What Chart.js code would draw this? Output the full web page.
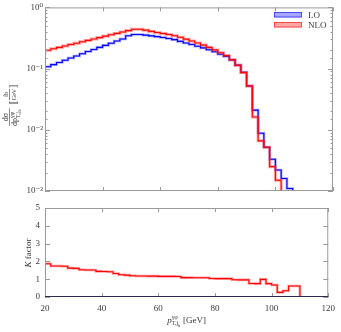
<!DOCTYPE html>
<html>
<head>
<meta charset="utf-8">
<script src="https://cdn.jsdelivr.net/npm/chart.js@4.4.0/dist/chart.umd.min.js"></script>
<style>
  body { margin: 0; background: #fff; }
  canvas { position: absolute; left: 0; }
  #topChart { top: 0; }
  #bottomChart { top: 196px; }
</style>
</head>
<body>
<canvas id="topChart" width="341" height="200"></canvas>
<canvas id="bottomChart" width="341" height="136"></canvas>
<script>
// bin edges in GeV (2 GeV bins)
const binEdges = [20,22,24,26,28,30,32,34,36,38,40,42,44,46,48,50,52,54,56,58,60,62,64,66,68,70,72,74,76,78,80,82,84,86,88,90,92,94,96,98,100,102,104,106,108,110];

// dsigma/dpT [fb/GeV]
const loValues = [0.098,0.107,0.116,0.126,0.137,0.149,0.161,0.175,0.19,0.205,
  0.222,0.24,0.26,0.282,0.305,0.345,0.36,0.36,0.352,0.343,
  0.333,0.322,0.31,0.297,0.278,0.262,0.248,0.232,0.218,0.203,
  0.188,0.172,0.158,0.138,0.114,0.087,0.052,0.021,0.0088,0.0052,
  0.0033,0.0022,0.0016,0.0011,0.0006];
const nloValues = [0.175,0.2,0.211,0.222,0.234,0.247,0.26,0.274,0.289,0.305,
  0.321,0.339,0.357,0.376,0.396,0.418,0.44,0.44,0.425,0.405,
  0.39,0.375,0.36,0.345,0.325,0.303,0.283,0.262,0.242,0.222,
  0.202,0.182,0.163,0.14,0.113,0.086,0.052,0.0162,0.0066,0.0052,
  0.0025,0.0015,0.00043,0.00038,0.00036];
const kFactor = [1.78,1.87,1.74,1.74,1.73,1.62,1.61,1.53,1.52,1.52,
  1.44,1.43,1.42,1.32,1.25,1.23,1.19,1.18,1.18,1.17,
  1.17,1.16,1.16,1.16,1.15,1.09,1.09,1.08,1.08,1.08,
  1.04,1.03,1.03,1.03,0.97,0.96,0.96,0.76,0.75,0.99,
  0.75,0.67,0.26,0.35,0.62];

const xTicks = [20,40,60,80,100,120];
const kTicks = [0,1,2,3,4,5];
const logLabels = {'0': '10⁰', '-1': '10⁻¹', '-2': '10⁻²', '-3': '10⁻³'};

const serif = "'Liberation Serif', 'DejaVu Serif', serif";
const textColor = '#3a3a3a';
const frameColor = '#9a9a9a';

// histogram as stepped points: left edge of each bin + closing right edge
function steps(values) {
  const pts = values.map((v, i) => ({x: binEdges[i], y: v}));
  pts.push({x: binEdges[values.length], y: values[values.length - 1]});
  return pts;
}

function histLine(data, color, width) {
  return {
    data: data,
    borderColor: color,
    borderWidth: width,
    stepped: 'after',
    pointRadius: 0,
    fill: false
  };
}

function isPow10(v) {
  const l = Math.log10(v);
  return Math.abs(l - Math.round(l)) < 1e-9;
}

// frame and inward ticks
function drawFrame(chart, majorFn, bottomColor) {
  const {ctx, chartArea: a, scales} = chart;
  ctx.save();
  ctx.strokeStyle = frameColor;
  ctx.lineWidth = 1;
  ctx.strokeRect(a.left + 0.5, a.top + 0.5, a.right - a.left - 1, a.bottom - a.top - 1);
  ctx.beginPath();
  xTicks.forEach(v => {
    const px = Math.round(scales.x.getPixelForValue(v)) + 0.5;
    ctx.moveTo(px, a.bottom); ctx.lineTo(px, a.bottom - 4);
    ctx.moveTo(px, a.top); ctx.lineTo(px, a.top + 4);
  });
  scales.y.ticks.forEach(t => {
    const py = Math.round(scales.y.getPixelForValue(t.value)) + 0.5;
    const len = majorFn(t.value) ? 5 : 2.5;
    ctx.moveTo(a.left, py); ctx.lineTo(a.left + len, py);
    ctx.moveTo(a.right, py); ctx.lineTo(a.right - len, py);
  });
  ctx.stroke();
  if (bottomColor) {
    ctx.strokeStyle = bottomColor;
    ctx.beginPath();
    ctx.moveTo(a.left, a.bottom - 0.5);
    ctx.lineTo(a.right, a.bottom - 0.5);
    ctx.stroke();
  }
  ctx.restore();
}

// y title of the upper panel: dσ/dp_{T,j_b}^{γφ} [fb/GeV]
function drawYTitle(ctx, cx, cy) {
  ctx.save();
  ctx.translate(cx, cy);
  ctx.rotate(-Math.PI / 2);
  ctx.fillStyle = textColor;
  ctx.strokeStyle = textColor;
  ctx.lineWidth = 0.6;
  ctx.textBaseline = 'alphabetic';
  const big = '8px ' + serif, small = '6px ' + serif, tiny = '4.5px ' + serif;
  ctx.font = big; const wdp = ctx.measureText('dp').width;
  ctx.font = small; const wsub = ctx.measureText('T,j').width; const wsup = ctx.measureText('γφ').width;
  ctx.font = tiny; const wb = ctx.measureText('b').width;
  const denW = wdp + Math.max(wsub + wb, wsup) + 1;
  let x = -28;
  ctx.beginPath(); ctx.moveTo(x, 0.5); ctx.lineTo(x + denW, 0.5); ctx.stroke();
  ctx.font = big;
  const wNum = ctx.measureText('dσ').width;
  ctx.fillText('dσ', x + (denW - wNum) / 2, -1.5);
  ctx.fillText('dp', x, 8);
  ctx.font = small;
  ctx.fillText('T,j', x + wdp, 10.5);
  ctx.fillText('γφ', x + wdp, 4.5);
  ctx.font = tiny;
  ctx.fillText('b', x + wdp + wsub, 12);
  x += denW + 4;
  // [fb/GeV]
  ctx.font = '11px ' + serif;
  ctx.fillText('[', x, 6.5);
  const wbr = ctx.measureText('[').width;
  ctx.font = small;
  const wGeV = ctx.measureText('GeV').width;
  const wfb = ctx.measureText('fb').width;
  const fx = x + wbr + 0.5;
  ctx.beginPath(); ctx.moveTo(fx, 0.5); ctx.lineTo(fx + wGeV, 0.5); ctx.stroke();
  ctx.fillText('fb', fx + (wGeV - wfb) / 2, -1.2);
  ctx.fillText('GeV', fx, 6.5);
  ctx.font = '11px ' + serif;
  ctx.fillText(']', fx + wGeV + 0.5, 6.5);
  ctx.restore();
}

function drawLegend(ctx) {
  ctx.save();
  const items = [
    {label: 'LO', fill: 'rgba(80,80,255,0.5)', edge: 'rgba(40,40,255,0.9)', y: 12},
    {label: 'NLO', fill: 'rgba(255,80,80,0.5)', edge: 'rgba(255,40,40,0.9)', y: 22}
  ];
  ctx.font = '9px ' + serif;
  ctx.textBaseline = 'middle';
  items.forEach(it => {
    ctx.fillStyle = it.fill;
    ctx.fillRect(274, it.y, 28, 5.5);
    ctx.strokeStyle = it.edge;
    ctx.lineWidth = 0.8;
    ctx.strokeRect(274.5, it.y + 0.5, 27, 4.5);
    ctx.fillStyle = textColor;
    ctx.fillText(it.label, 308, it.y + 3.5);
  });
  ctx.restore();
}

const commonPlugins = {legend: {display: false}, tooltip: {enabled: false}};

new Chart(document.getElementById('topChart'), {
  type: 'line',
  data: {
    datasets: [
      histLine(steps(nloValues), 'rgb(255,0,0)', 1.1),
      histLine(steps(nloValues), 'rgba(255,60,60,0.45)', 3),
      histLine(steps(loValues), 'rgb(0,0,255)', 1.1),
      histLine(steps(loValues), 'rgba(60,60,255,0.45)', 2.6)
    ]
  },
  options: {
    responsive: false,
    animation: false,
    devicePixelRatio: 1,
    layout: {padding: {left: 0, right: 8, top: 6, bottom: 9}},
    plugins: commonPlugins,
    scales: {
      x: {type: 'linear', min: 20, max: 120, display: false},
      y: {
        type: 'logarithmic', min: 0.001, max: 1,
        afterFit: s => { s.width = 45; },
        grid: {display: false, drawTicks: false},
        border: {display: false},
        ticks: {
          autoSkip: false,
          padding: 2,
          color: textColor,
          font: {family: serif, size: 9},
          callback: v => isPow10(v) ? logLabels[String(Math.round(Math.log10(v)))] : ''
        }
      }
    }
  },
  plugins: [{
    id: 'topDecor',
    afterDraw(chart) {
      drawFrame(chart, isPow10, null);
      drawLegend(chart.ctx);
      drawYTitle(chart.ctx, 9, 98);
    }
  }]
});

const kData = steps(kFactor);
kData.push({x: binEdges[binEdges.length - 1], y: 0});

new Chart(document.getElementById('bottomChart'), {
  type: 'line',
  data: {
    datasets: [
      histLine(kData, 'rgb(255,0,0)', 1.1),
      histLine(kData, 'rgba(255,60,60,0.45)', 2.6)
    ]
  },
  options: {
    responsive: false,
    animation: false,
    devicePixelRatio: 1,
    layout: {padding: {left: 0, right: 8, top: 12, bottom: 0}},
    plugins: commonPlugins,
    scales: {
      x: {
        type: 'linear', min: 20, max: 120,
        afterFit: s => { s.height = 35; },
        afterBuildTicks: s => { s.ticks = xTicks.map(v => ({value: v})); },
        grid: {display: false, drawTicks: false},
        border: {display: false},
        ticks: {padding: 6, color: textColor, font: {family: serif, size: 9}, maxRotation: 0}
      },
      y: {
        type: 'linear', min: 0, max: 5,
        afterFit: s => { s.width = 45; },
        afterBuildTicks: s => { s.ticks = kTicks.map(v => ({value: v})); },
        grid: {display: false, drawTicks: false},
        border: {display: false},
        ticks: {padding: 5, color: textColor, font: {family: serif, size: 9}}
      }
    }
  },
  plugins: [{
    id: 'bottomDecor',
    afterDraw(chart) {
      const ctx = chart.ctx;
      drawFrame(chart, () => true, '#2c2c48');
      ctx.save();
      ctx.fillStyle = textColor;
      // K factor
      ctx.translate(31, 57);
      ctx.rotate(-Math.PI / 2);
      ctx.textBaseline = 'alphabetic';
      ctx.font = 'italic 9px ' + serif;
      const wK = ctx.measureText('K').width;
      ctx.font = '9px ' + serif;
      const wF = ctx.measureText(' factor').width;
      const x0 = -(wK + wF) / 2;
      ctx.font = 'italic 9px ' + serif;
      ctx.fillText('K', x0, 0);
      ctx.font = '9px ' + serif;
      ctx.fillText(' factor', x0 + wK, 0);
      ctx.restore();
      // x title: p_{T,j_b}^{γφ} [GeV]
      ctx.save();
      ctx.fillStyle = textColor;
      ctx.textBaseline = 'alphabetic';
      ctx.font = 'italic 9px ' + serif;
      const wp = ctx.measureText('p').width;
      ctx.font = '6px ' + serif;
      const wT = ctx.measureText('T,j').width;
      const wG = ctx.measureText('γφ').width;
      ctx.font = '4.5px ' + serif;
      const wb = ctx.measureText('b').width;
      ctx.font = '9px ' + serif;
      const wU = ctx.measureText(' [GeV]').width;
      const scriptW = Math.max(wT + wb, wG) + 0.5;
      const total = wp + scriptW + wU;
      const cx = (chart.chartArea.left + chart.chartArea.right) / 2;
      let x = cx - total / 2;
      const by = 127;
      ctx.font = 'italic 9px ' + serif;
      ctx.fillText('p', x, by);
      ctx.font = '6px ' + serif;
      ctx.fillText('T,j', x + wp, by + 2);
      ctx.fillText('γφ', x + wp, by - 4.5);
      ctx.font = '4.5px ' + serif;
      ctx.fillText('b', x + wp + wT, by + 3.5);
      ctx.font = '9px ' + serif;
      ctx.fillText(' [GeV]', x + wp + scriptW, by);
      ctx.restore();
    }
  }]
});
</script>
</body>
</html>
